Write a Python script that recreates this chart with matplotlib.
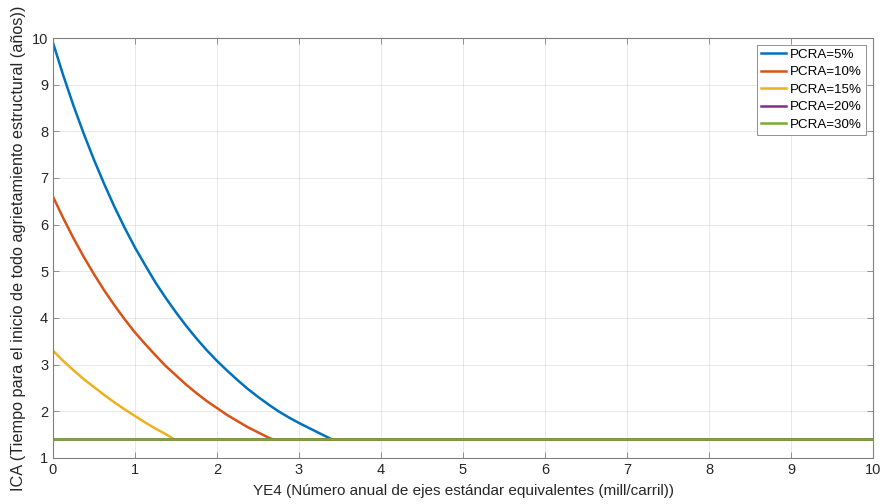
import matplotlib.pyplot as plt

plt.rcParams['font.family'] = ['Liberation Sans', 'DejaVu Sans']

# datos
x_5 = [0, 0.125, 0.25, 0.375, 0.5, 0.625, 0.75, 0.875, 1.0, 1.125, 1.25, 1.375, 1.5,
       1.625, 1.75, 1.875, 2.0, 2.125, 2.25, 2.375, 2.5, 2.625, 2.75, 2.875, 3.0,
       3.125, 3.25, 3.4, 10]
ica_5 = [9.9, 9.2, 8.55, 7.95, 7.39, 6.87, 6.38, 5.93, 5.51, 5.13, 4.76, 4.43, 4.12,
         3.83, 3.56, 3.31, 3.08, 2.87, 2.67, 2.48, 2.31, 2.15, 2.0, 1.87, 1.75,
         1.64, 1.53, 1.4, 1.4]

x_10 = [0, 0.125, 0.25, 0.375, 0.5, 0.625, 0.75, 0.875, 1.0, 1.125, 1.25, 1.375, 1.5,
        1.625, 1.75, 1.875, 2.0, 2.125, 2.25, 2.375, 2.5, 2.625, 2.68, 10]
ica_10 = [6.6, 6.14, 5.71, 5.31, 4.94, 4.59, 4.27, 3.97, 3.69, 3.44, 3.2, 2.97, 2.77,
          2.57, 2.39, 2.22, 2.07, 1.92, 1.79, 1.66, 1.55, 1.44, 1.4, 1.4]

x_15 = [0, 0.125, 0.25, 0.375, 0.5, 0.625, 0.75, 0.875, 1.0, 1.125, 1.25, 1.375, 1.48, 10]
ica_15 = [3.3, 3.08, 2.88, 2.69, 2.52, 2.35, 2.19, 2.04, 1.9, 1.76, 1.63, 1.51, 1.4, 1.4]

x_20 = [0, 10]
ica_20 = [1.4, 1.4]

x_30 = [0, 10]
ica_30 = [1.4, 1.4]

labels = ['PCRA=5%', 'PCRA=10%', 'PCRA=15%', 'PCRA=20%', 'PCRA=30%']
colors = ['#0072BD', '#D95319', '#EDB120', '#7E2F8E', '#77AC30']

fig = plt.figure(figsize=(8.83, 5.04), dpi=100)
ax = fig.add_axes([0.060, 0.0913, 0.9287, 0.8333])

series = [(x_5, ica_5), (x_10, ica_10), (x_15, ica_15), (x_20, ica_20), (x_30, ica_30)]
for (xs, ys), lab, c in zip(series, labels, colors):
    ax.plot(xs, ys, color=c, lw=1.8, label=lab, solid_joinstyle='round')

ax.set_xlim(0, 10)
ax.set_ylim(1, 10)
ax.set_xticks(range(0, 11))
ax.set_yticks(range(1, 11))
ax.grid(True, color='#262626', alpha=0.12, lw=0.6)

axcol = '#262626'
for s in ax.spines.values():
    s.set_color('#808080')
    s.set_linewidth(0.8)
ax.tick_params(direction='in', length=4, width=0.6, color='#808080',
               labelsize=10.5, labelcolor=axcol, top=True, right=True)

ax.set_xlabel('YE4 (Número anual de ejes estándar equivalentes (mill/carril))',
              fontsize=11, color=axcol, labelpad=5)
ax.set_ylabel('ICA (Tiempo para el inicio de todo agrietamiento estructural (años))',
              fontsize=11.7, color=axcol, labelpad=4)

leg = ax.legend(loc='upper right', fontsize=9.6, fancybox=False, framealpha=1,
                edgecolor='#808080', handlelength=1.9, borderpad=0.3,
                labelspacing=0.38, handletextpad=0.3, borderaxespad=0.5)
leg.get_frame().set_linewidth(0.6)

fig.savefig('out.png', dpi=100)
